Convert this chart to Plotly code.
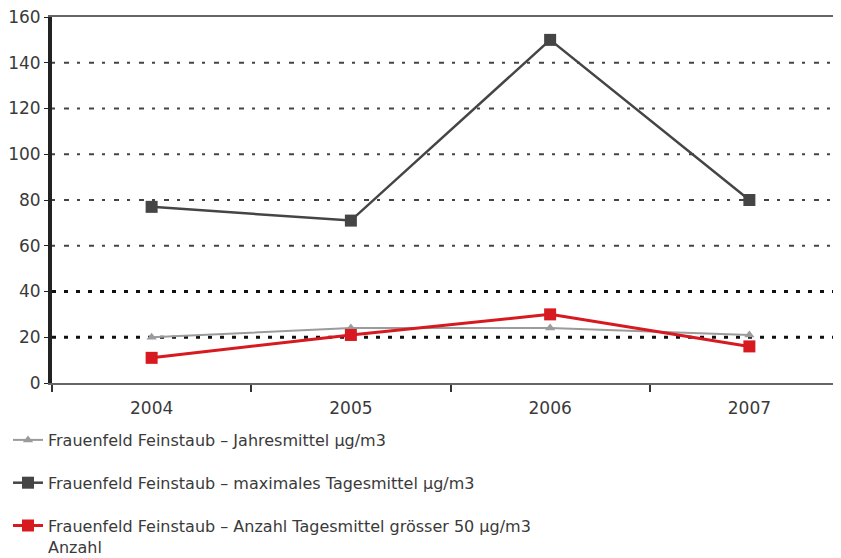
import plotly.graph_objects as go

years = ["2004", "2005", "2006", "2007"]
jahresmittel = [20, 24, 24, 21]
max_tagesmittel = [77, 71, 150, 80]
anzahl_ueber_50 = [11, 21, 30, 16]

y_ticks = [0, 20, 40, 60, 80, 100, 120, 140, 160]
strong_grid = [20, 40]
light_grid = [60, 80, 100, 120, 140]

FONT = "DejaVu Sans"

fig = go.Figure()
fig.add_trace(go.Scatter(
    x=years, y=jahresmittel, mode="lines+markers",
    name="Frauenfeld Feinstaub – Jahresmittel µg/m3",
    line=dict(color="#9b9b9b", width=2),
    marker=dict(symbol="triangle-up", size=9, color="#9b9b9b"),
    legendgroup="a",
))
fig.add_trace(go.Scatter(
    x=years, y=max_tagesmittel, mode="lines+markers",
    name="Frauenfeld Feinstaub – maximales Tagesmittel µg/m3",
    line=dict(color="#454545", width=2.5),
    marker=dict(symbol="square", size=12, color="#454545"),
    legendgroup="b",
))
fig.add_trace(go.Scatter(
    x=years, y=anzahl_ueber_50, mode="lines+markers",
    name="Frauenfeld Feinstaub – Anzahl Tagesmittel grösser 50 µg/m3<br>Anzahl",
    line=dict(color="#d71920", width=3),
    marker=dict(symbol="square", size=12, color="#d71920"),
    legendgroup="c",
))

# gridlines: heavy black dots at 20/40, lighter dashes above
for v in strong_grid:
    fig.add_hline(y=v, line=dict(color="#111111", width=3, dash="4px,8px"), layer="below")
for v in light_grid:
    fig.add_hline(y=v, line=dict(color="#444444", width=2, dash="3px,9px,5px,8px"), layer="below")

fig.update_layout(
    width=841, height=558,
    margin=dict(l=44, r=0, t=9, b=183, autoexpand=False),
    plot_bgcolor="white", paper_bgcolor="white",
    font=dict(family=FONT, size=16, color="#3a3a3a"),
    showlegend=True,
    legend=dict(
        orientation="v", xref="container", yref="container",
        x=0.0, y=1 - 415 / 558, xanchor="left", yanchor="top",
        valign="top", tracegroupgap=19, font=dict(size=16, color="#3a3a3a"),
        itemwidth=30,
    ),
)
fig.update_xaxes(
    type="category", range=[-0.5, 3.5],
    showline=True, linecolor="#666666", linewidth=2, mirror=True,
    ticks="outside", tickson="boundaries", ticklen=7, tickcolor="#333333", tickwidth=1.5,
    ticklabelstandoff=9, tickfont=dict(size=17),
    showgrid=False, zeroline=False,
)
fig.update_yaxes(
    range=[0, 160], tickvals=y_ticks,
    showline=True, linecolor="#222222", linewidth=4,
    ticks="outside", ticklen=4, tickcolor="#222222",
    ticklabeloverflow="allow", tickfont=dict(size=17),
    showgrid=False, zeroline=False,
)

fig.write_html("out.html")
